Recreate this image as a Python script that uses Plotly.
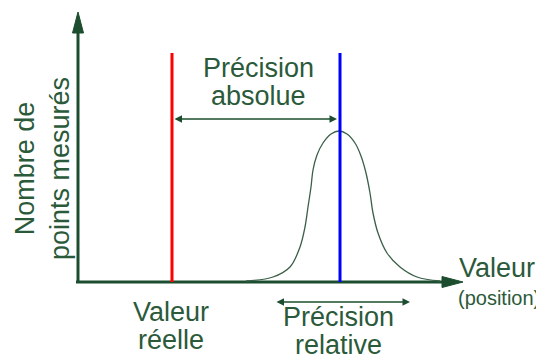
import plotly.graph_objects as go

# schematic: "valeur réelle" vs. distribution of measured points
true_value = 94
measured_mean = 262
marker_top = 229

curve_x = [168, 195, 212, 222, 227, 230, 233, 235, 239, 245, 253, 261,
           269, 277, 283, 288, 292, 295, 300, 309, 322, 339, 362]
curve_y = [1, 5, 15, 35, 55, 75, 95, 112, 127, 139, 148, 151,
           148, 139, 126, 109, 89, 69, 49, 29, 15, 5, 1]

# arrow spans
abs_span = [95, 259]
abs_level = 163
rel_span = [197, 332]
rel_level = -20

x_tip = 385
y_tip = 270

axis_col = '#1c4d2e'
text_col = '#2b5a3a'
font = 'Liberation Sans, Arial, sans-serif'

fig = go.Figure()

# gaussian of measured points
fig.add_trace(go.Scatter(
    x=curve_x, y=curve_y, mode='lines',
    line=dict(color='#3a5f47', width=1.3, shape='spline', smoothing=1.0),
    hoverinfo='skip'
))

# true value (red) and measured mean (blue)
fig.add_trace(go.Scatter(
    x=[true_value, true_value], y=[0, marker_top], mode='lines',
    line=dict(color='#ff0000', width=3), hoverinfo='skip'
))
fig.add_trace(go.Scatter(
    x=[measured_mean, measured_mean], y=[0, marker_top], mode='lines',
    line=dict(color='#0000ff', width=3), hoverinfo='skip'
))

# axes with arrowheads
head_len = 21
head_half = 5.5
shapes = [
    dict(type='line', x0=-2, y0=0, x1=x_tip - head_len + 2, y1=0,
         line=dict(color=axis_col, width=3), layer='below'),
    dict(type='line', x0=0, y0=0, x1=0, y1=y_tip - head_len + 2,
         line=dict(color=axis_col, width=3), layer='below'),
    dict(type='path',
         path=f'M {x_tip} 0 L {x_tip - head_len} {head_half} L {x_tip - head_len} {-head_half} Z',
         fillcolor=axis_col, line=dict(color=axis_col, width=1)),
    dict(type='path',
         path=f'M 0 {y_tip} L {head_half} {y_tip - head_len} L {-head_half} {y_tip - head_len} Z',
         fillcolor=axis_col, line=dict(color=axis_col, width=1)),
]


def label(x, y, text, size=27, **kw):
    return dict(x=x, y=y, text=text, showarrow=False,
                font=dict(size=size, color=text_col, family=font), **kw)


annotations = [
    # precision arrows
    dict(x=abs_span[1], y=abs_level, ax=abs_span[0], ay=abs_level,
         xref='x', yref='y', axref='x', ayref='y', text='',
         showarrow=True, arrowhead=2, arrowside='end+start',
         arrowwidth=1.5, arrowsize=1, arrowcolor=axis_col),
    dict(x=rel_span[1], y=rel_level, ax=rel_span[0], ay=rel_level,
         xref='x', yref='y', axref='x', ayref='y', text='',
         showarrow=True, arrowhead=2, arrowside='end+start',
         arrowwidth=1.5, arrowsize=1, arrowcolor=axis_col),
    # labels
    label(180, 214, 'Précision'),
    label(180, 186, 'absolue'),
    label(93, -30, 'Valeur'),
    label(93, -58, 'réelle'),
    label(260, -35, 'Précision'),
    label(260, -63, 'relative'),
    label(379, 14, 'Valeur', xanchor='left'),
    label(378, -16, '(position)', size=20, xanchor='left'),
    label(-36, 113, 'Nombre de<br>points mesurés', textangle=-90),
]

# page body has an 8px margin, so the figure is 8px smaller and the
# ranges start 8px further in
fig.update_layout(
    width=536, height=352,
    margin=dict(l=0, r=0, t=0, b=0),
    paper_bgcolor='white', plot_bgcolor='white',
    showlegend=False,
    xaxis=dict(range=[-70, 466], visible=False, fixedrange=True),
    yaxis=dict(range=[-78, 274], visible=False, fixedrange=True),
    shapes=shapes,
    annotations=annotations,
)

fig.write_html("out.html")
